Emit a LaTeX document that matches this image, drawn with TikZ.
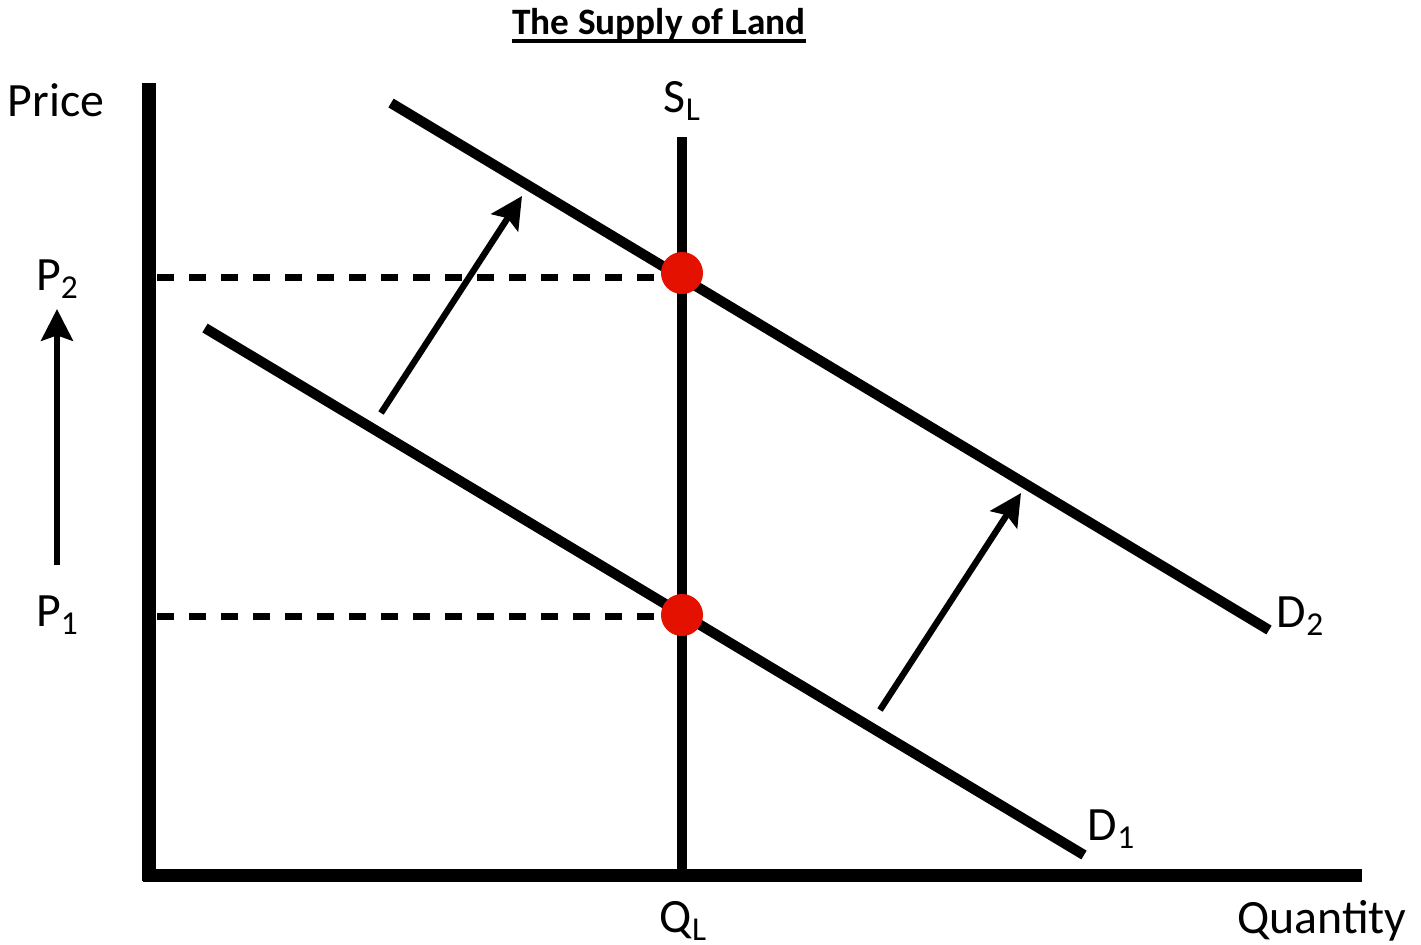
\documentclass[tikz,border=0pt]{standalone}
\usepackage{fontspec}
\setmainfont{Carlito}
\usepackage{tikz}
\usetikzlibrary{arrows.meta,positioning,calc}
\tikzset{
  axis/.style={line width=3.7pt},
  curve/.style={line width=2.9pt},
  shiftarrow/.style={line width=1.8pt, -{Stealth[length=9pt, width=9pt, inset=1.5pt]}},
  guide/.style={line width=2pt, dash pattern=on 4.8pt off 4.3pt},
  eqdot/.style={circle, fill=red!85!orange!90!black, minimum size=0.42cm, inner sep=0pt},
  lbl/.style={font=\fontsize{13.6}{16}\selectfont, inner sep=0pt}
}
\newcommand{\lsub}[1]{\raisebox{-0.35ex}{\fontsize{9.5}{11}\selectfont #1}}

\begin{document}
\begin{tikzpicture}[x=0.01cm, y=-0.01cm]
    \useasboundingbox (0,0) rectangle (1421,944);
    \node[font=\fontsize{10.6}{12}\selectfont\bfseries, inner sep=0pt, anchor=base] (title) at (659,34) {The Supply of Land};
    \draw[line width=1.1pt] (title.base west) ++(0,7) -- ($(title.base east)+(0,7)$);
    % axes
    \coordinate (origin) at (149,875);
    \coordinate (ytop) at (149,83);
    \coordinate (xend) at (1362,875);
    \draw[axis] (ytop) -- (149,881) (143,875) -- (xend);
    \node[lbl] (price) at (56,100) {Price};
    \node[lbl] (qty) at (1322,921) {Quantity};
    % supply of land
    \coordinate (stop) at (682,137);
    \coordinate (sbot) at (682,870);
    \draw[curve] (stop) -- (sbot);
    \node[lbl] (slbl) at (682,101) {S\lsub{L}};
    \node[lbl] (ql) at (683,921) {Q\lsub{L}};
    % demand curves
    \coordinate (d1a) at (205,328);
    \coordinate (d1b) at (1084,855);
    \coordinate (d2a) at (391,103);
    \coordinate (d2b) at (1269,630);
    \draw[curve] (d1a) -- (d1b);
    \draw[curve] (d2a) -- (d2b);
    \node[lbl] (d1lbl) at (1111,829) {D\lsub{1}};
    \node[lbl] (d2lbl) at (1300,616) {D\lsub{2}};
    % equilibria
    \node[eqdot] (e1) at (682,615) {};
    \node[eqdot] (e2) at (682,273) {};
    \coordinate (p1ax) at (157,616);
    \coordinate (p2ax) at (157,277);
    \draw[guide] (p1ax) -- (e1.west |- p1ax);
    \draw[guide] (p2ax) -- (e2.west |- p2ax);
    \node[lbl] (p1) at (57,615) {P\lsub{1}};
    \node[lbl] (p2) at (57,279) {P\lsub{2}};
    % shifts
    \coordinate (up0) at (57,565);
    \coordinate (up1) at (57,309);
    \draw[shiftarrow] (up0) -- (up1);
    \coordinate (s1a) at (381,413);
    \coordinate (s1b) at (522,196);
    \coordinate (s2a) at (880,710);
    \coordinate (s2b) at (1021,493);
    \draw[shiftarrow] (s1a) -- (s1b);
    \draw[shiftarrow] (s2a) -- (s2b);
\end{tikzpicture}
\end{document}
